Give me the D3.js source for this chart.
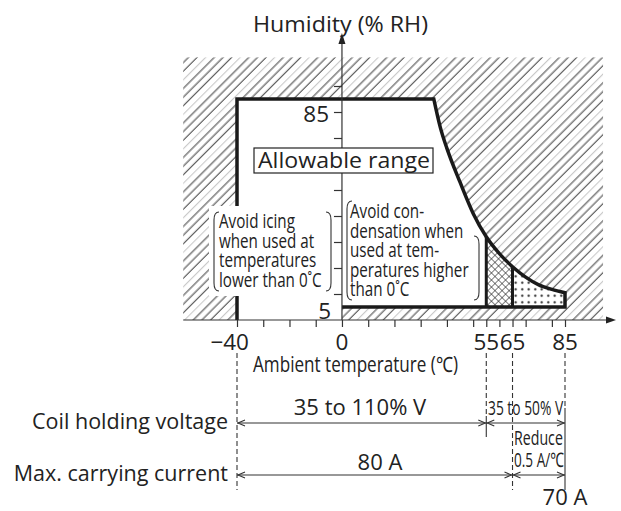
<!DOCTYPE html>
<html><head><meta charset="utf-8">
<script src="https://cdn.jsdelivr.net/npm/d3@7"></script>
<style>
body{margin:0;background:#fff;}
svg{display:block;}
text{font-family:"Open Sans","Noto Sans",sans-serif;fill:#222;}
</style>
</head><body>
<svg id="c" width="621" height="511"></svg>
<script>
// ---- data ----
const curveTemp = [35, 37.5, 40, 45, 50, 55, 60, 65, 70, 75, 80, 85];
const curveRH   = [85, 74, 66, 53, 41, 32, 25.5, 20.5, 16.5, 13.5, 11.8, 10.5];
const allowTemp = [-40, 85];          // min / max ambient temperature
const allowRH = [5, 85];              // min / max humidity
const condensationStart = [0];        // humidity floor applies above 0 C
const crossRange = [55, 65];
const dotRange = [65, 85];
const xTicks = [-40, -30, -20, -10, 0, 10, 20, 30, 40, 50, 55, 60, 65, 70, 80, 85];
const xTickLabels = [-40, 0, 55, 65, 85];
const yTicks = [10, 20, 30, 40, 50, 60, 70, 80, 90];
const yTickLabels = [85, 5];
const voltageBreaks = [-40, 55, 85];
const voltageLabels = ["35 to 110% V", "35 to 50% V"];
const currentBreaks = [-40, 65, 85];
const currentLabels = ["80 A", "Reduce", "0.5 A/\u2103", "70 A"];
const icingLines = ["Avoid icing", "when used at", "temperatures", "lower than 0\u02DAC"];
const condLines = ["Avoid con-", "densation when", "used at tem-", "peratures higher", "than 0\u02DAC"];

// ---- scales ----
const x = d3.scaleLinear().domain([-40, 85]).range([237, 565]);
const y = d3.scaleLinear().domain([0, 100]).range([320, 60]);

const svg = d3.select("#c");
const defs = svg.append("defs");

// hatch pattern
const sp = 6.1;
const hp = defs.append("pattern").attr("id", "hatch").attr("patternUnits", "userSpaceOnUse")
  .attr("width", sp * 4).attr("height", 10).attr("patternTransform", "rotate(45)");
[0, 1, 2, 3].forEach(i => {
  const px = sp * (i + 0.5);
  hp.append("line").attr("x1", px).attr("x2", px).attr("y1", -1).attr("y2", 11)
    .attr("stroke", i === 2 ? "#c4c4c4" : "#3a3a3a").attr("stroke-width", 1.0);
});
// cross hatch
const cp = defs.append("pattern").attr("id", "cross").attr("patternUnits", "userSpaceOnUse")
  .attr("width", 5).attr("height", 5).attr("patternTransform", "rotate(45)");
cp.append("line").attr("x1", 0).attr("x2", 0).attr("y1", 0).attr("y2", 5).attr("stroke", "#222").attr("stroke-width", 1.2);
cp.append("line").attr("x1", 0).attr("x2", 5).attr("y1", 0).attr("y2", 0).attr("stroke", "#222").attr("stroke-width", 1.2);
// dots
const dp = defs.append("pattern").attr("id", "dots").attr("patternUnits", "userSpaceOnUse")
  .attr("width", 6.5).attr("height", 6.5).attr("x", x(65)).attr("y", 0);
dp.append("circle").attr("cx", 3.2).attr("cy", 3.2).attr("r", 1.1).attr("fill", "#222");

// hatched background
const hx0 = x(-60.5), hx1 = x(99.5), hy0 = y(101), hy1 = y(0);
svg.append("rect").attr("x", hx0).attr("y", hy0).attr("width", hx1 - hx0).attr("height", hy1 - hy0)
  .attr("fill", "url(#hatch)");

// allowable polygon
const pts = curveTemp.map((t, i) => [x(t), y(curveRH[i])]);
const curvePath = d3.line().curve(d3.curveMonotoneX)(pts);
const polyPath = `M${x(allowTemp[0])},${y(0)}L${x(allowTemp[0])},${y(allowRH[1])}L` + curvePath.slice(1) +
  `L${x(allowTemp[1])},${y(allowRH[0])}L${x(condensationStart[0])},${y(allowRH[0])}L${x(condensationStart[0])},${y(0)}Z`;
defs.append("clipPath").attr("id", "allow").append("path").attr("d", polyPath);
svg.append("path").attr("d", polyPath).attr("fill", "#fff");

// cross-hatched and dotted regions
const g2 = svg.append("g").attr("clip-path", "url(#allow)");
g2.append("rect").attr("x", x(crossRange[0])).attr("y", y(100)).attr("width", x(crossRange[1]) - x(crossRange[0]))
  .attr("height", y(allowRH[0]) - y(100)).attr("fill", "url(#cross)");
g2.append("rect").attr("x", x(dotRange[0])).attr("y", y(100)).attr("width", x(dotRange[1]) - x(dotRange[0]))
  .attr("height", y(allowRH[0]) - y(100)).attr("fill", "url(#dots)");

// thick outline
const outline = `M${x(allowTemp[0])},${y(0)}L${x(allowTemp[0])},${y(allowRH[1])}L` + curvePath.slice(1) +
  `L${x(allowTemp[1])},${y(allowRH[0])}L${x(condensationStart[0])},${y(allowRH[0])}`;
svg.append("path").attr("d", outline).attr("fill", "none").attr("stroke", "#1a1a1a")
  .attr("stroke-width", 3.5).attr("stroke-linejoin", "miter");
[crossRange[0], crossRange[1]].forEach(t => {
  const rh = curveRH[curveTemp.indexOf(t)];
  svg.append("line").attr("x1", x(t)).attr("x2", x(t)).attr("y1", y(allowRH[0])).attr("y2", y(rh))
    .attr("stroke", "#1a1a1a").attr("stroke-width", 3);
});

// white backing behind the icing note (interrupts hatch and boundary)
svg.append("rect").attr("x", 209).attr("y", 206).attr("width", 32).attr("height", 90).attr("fill", "#fff");

// axes
const axCol = "#333";
svg.append("line").attr("x1", hx0).attr("x2", 608).attr("y1", y(0)).attr("y2", y(0)).attr("stroke", axCol).attr("stroke-width", 1.2);
svg.append("path").attr("d", `M616,${y(0)}L606,${y(0) - 3.5}L606,${y(0) + 3.5}Z`).attr("fill", "#222");
svg.append("line").attr("x1", x(0)).attr("x2", x(0)).attr("y1", y(0)).attr("y2", 42).attr("stroke", axCol).attr("stroke-width", 1.2);
svg.append("path").attr("d", `M${x(0)},33L${x(0) - 3.5},44L${x(0) + 3.5},44Z`).attr("fill", "#222");

const xa = svg.append("g").attr("transform", `translate(0,${y(0)})`)
  .call(d3.axisBottom(x).tickValues(xTicks).tickSize(7).tickFormat(""));
xa.select(".domain").remove();
xa.selectAll("line").attr("stroke", axCol).attr("stroke-width", 1.2);
const ya = svg.append("g").attr("transform", `translate(${x(0)},0)`)
  .call(d3.axisLeft(y).tickValues(yTicks).tickSize(8).tickFormat(""));
ya.select(".domain").remove();
ya.selectAll("line").attr("stroke", axCol).attr("stroke-width", 1.2);

// tick labels
xTickLabels.forEach(t => {
  svg.append("text").attr("x", t < 0 ? x(t) + 12 : x(t)).attr("y", 350)
    .attr("text-anchor", t < 0 ? "end" : "middle").attr("font-size", 22.5)
    .text(t < 0 ? "\u2212" + Math.abs(t) : t);
});
svg.append("text").attr("x", 329).attr("y", y(yTickLabels[0]) + 23).attr("text-anchor", "end").attr("font-size", 22.5).text(yTickLabels[0]);
svg.append("text").attr("x", 331).attr("y", y(yTickLabels[1]) + 12).attr("text-anchor", "end").attr("font-size", 22.5).text(yTickLabels[1]);

// axis titles
svg.append("text").attr("x", 253).attr("y", 32).attr("font-size", 22.5)
  .attr("textLength", 175).attr("lengthAdjust", "spacingAndGlyphs").text("Humidity (% RH)");
svg.append("text").attr("x", 253).attr("y", 372).attr("font-size", 21)
  .attr("textLength", 205).attr("lengthAdjust", "spacingAndGlyphs").text("Ambient temperature (\u2103)");

// Allowable range box
svg.append("rect").attr("x", 254).attr("y", 148).attr("width", 179).attr("height", 25)
  .attr("fill", "#fff").attr("stroke", "#222").attr("stroke-width", 1.2);
svg.append("text").attr("x", 258).attr("y", 168).attr("font-size", 21.5)
  .attr("textLength", 172).attr("lengthAdjust", "spacingAndGlyphs").text("Allowable range");

// condensed bracket texts
function condText(tx, ty, str, size, sx) {
  svg.append("text").attr("transform", `translate(${tx},${ty}) scale(${sx},1)`)
    .attr("font-size", size).text(str);
}
function bracket(bx, top, bot, dir) {
  const h = 5 * dir;
  svg.append("path").attr("d", `M${bx + h},${top}Q${bx},${top} ${bx},${top + 8}L${bx},${bot - 8}Q${bx},${bot} ${bx + h},${bot}`)
    .attr("fill", "none").attr("stroke", "#333").attr("stroke-width", 1.1);
}
icingLines.forEach((s, i) => condText(219, 228 + i * 19.5, s, 19.5, 0.78));
bracket(214, 212, 291, 1);
bracket(331, 212, 291, -1);
condLines.forEach((s, i) => condText(350, 218 + i * 19.5, s, 19.5, 0.78));
bracket(347, 201, 300, 1);
bracket(479, 236, 300, -1);

// lower dimension rows
const dash = "5,3";
function vline(xx, y1, y2, dashed) {
  svg.append("line").attr("x1", xx).attr("x2", xx).attr("y1", y1).attr("y2", y2)
    .attr("stroke", "#333").attr("stroke-width", 1.1).attr("stroke-dasharray", dashed ? dash : null);
}
vline(x(-40), 353, 490, true);
vline(x(55), 353, 416, true);
vline(x(55), 416, 437, false);
vline(x(65), 353, 490, true);
vline(x(85), 353, 408, true);
vline(x(85), 408, 490, false);

function dim(x1, x2, yy) {
  svg.append("line").attr("x1", x1).attr("x2", x2).attr("y1", yy).attr("y2", yy).attr("stroke", "#333").attr("stroke-width", 1.1);
  svg.append("path").attr("d", `M${x1 + 8},${yy - 3}L${x1 + 1},${yy}L${x1 + 8},${yy + 3}M${x2 - 8},${yy - 3}L${x2 - 1},${yy}L${x2 - 8},${yy + 3}`)
    .attr("fill", "none").attr("stroke", "#333").attr("stroke-width", 1.1);
}
const row1 = 423, row2 = 475;
dim(x(voltageBreaks[0]), x(voltageBreaks[1]), row1);
dim(x(voltageBreaks[1]), x(voltageBreaks[2]), row1);
dim(x(currentBreaks[0]), x(currentBreaks[1]), row2);
dim(x(currentBreaks[1]), x(currentBreaks[2]), row2);

svg.append("text").attr("x", 228).attr("y", 429).attr("text-anchor", "end").attr("font-size", 21.5).text("Coil holding voltage");
svg.append("text").attr("x", 228).attr("y", 481).attr("text-anchor", "end").attr("font-size", 21.5).text("Max. carrying current");

svg.append("text").attr("x", 360).attr("y", 415).attr("text-anchor", "middle").attr("font-size", 22).text(voltageLabels[0]);
condText(488, 415, voltageLabels[1], 20, 0.69);
svg.append("text").attr("x", 380).attr("y", 470).attr("text-anchor", "middle").attr("font-size", 22).text(currentLabels[0]);
condText(514, 445, currentLabels[1], 20, 0.71);
condText(514, 467, currentLabels[2], 20, 0.68);
svg.append("text").attr("x", x(85)).attr("y", 505).attr("text-anchor", "middle").attr("font-size", 22).text(currentLabels[3]);
</script>
</body></html>
